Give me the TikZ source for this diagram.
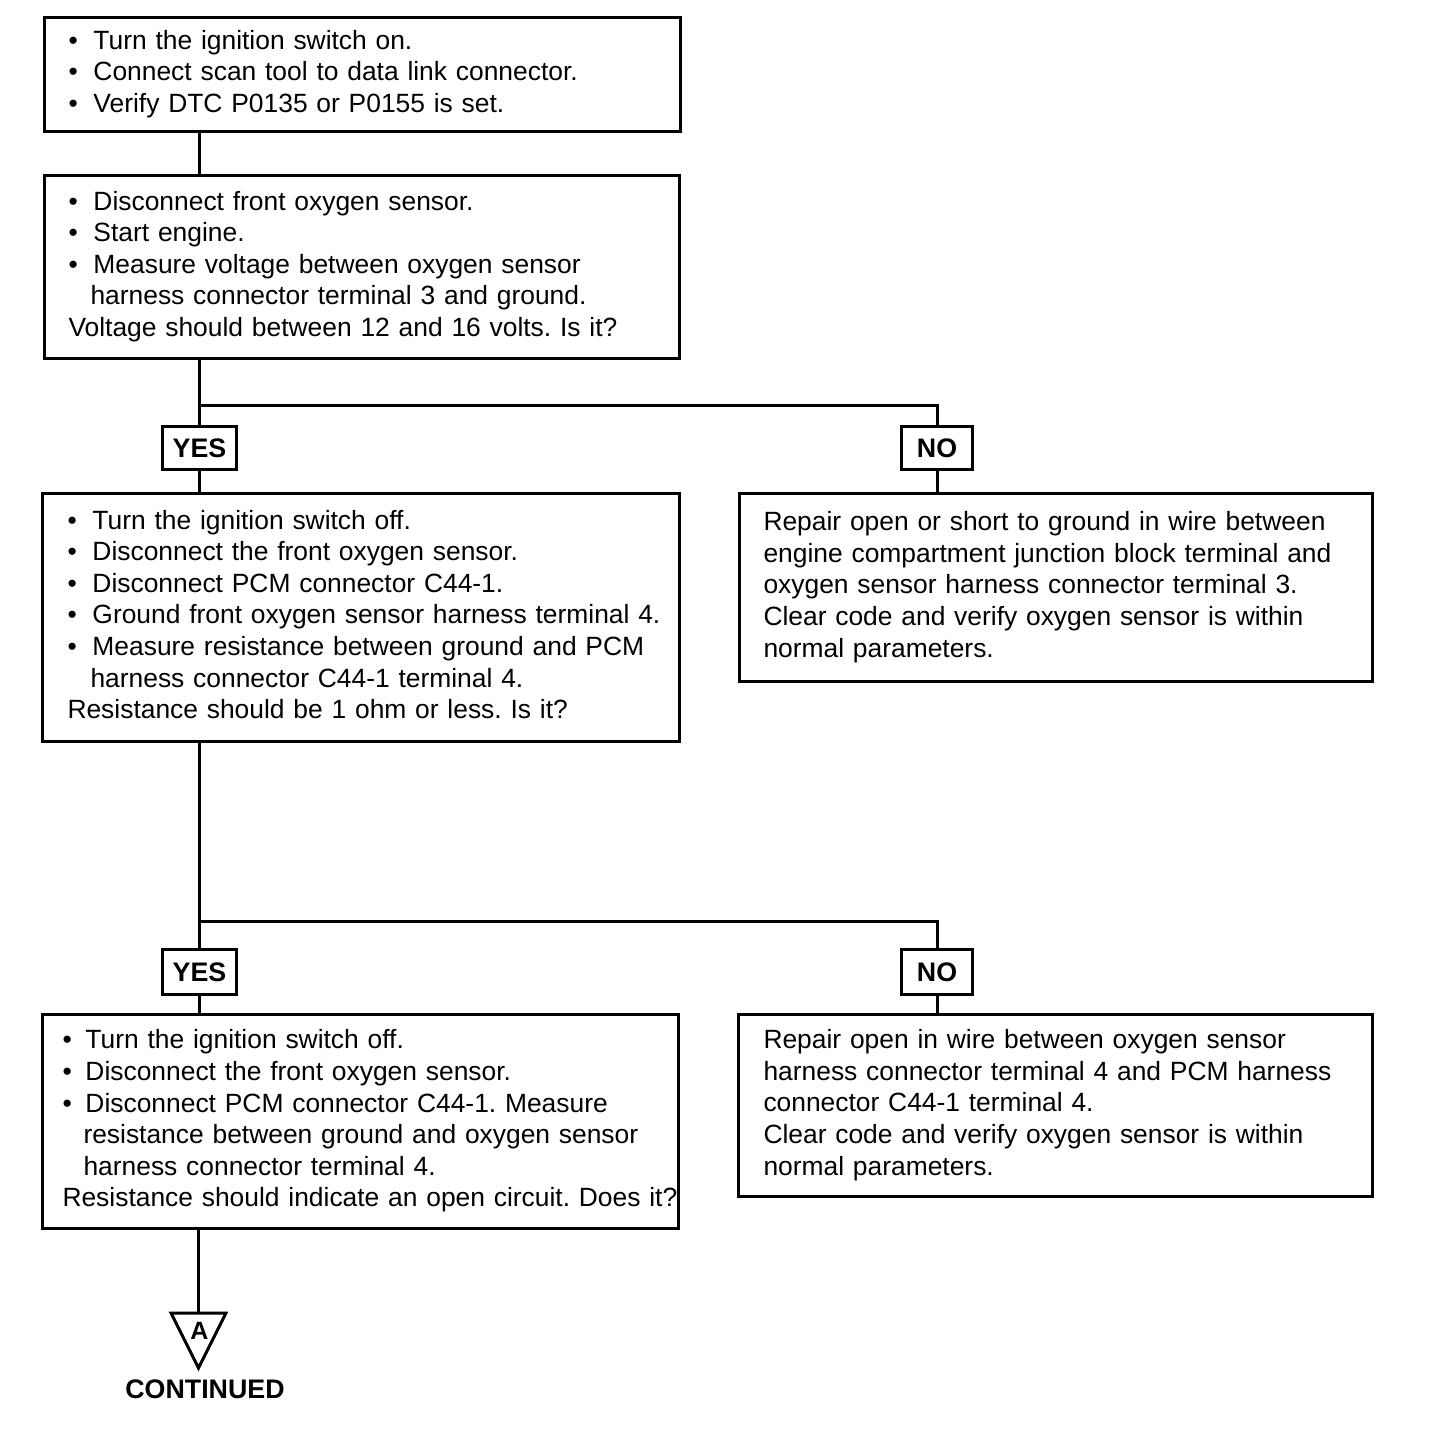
\documentclass[tikz,border=0pt]{standalone}
\usepackage{fontspec}
\setmainfont{Liberation Sans}
\frenchspacing
\newcommand{\bul}[2][25pt]{\makebox[#1][l]{\textbullet}#2}
\newcommand{\cont}[2][22pt]{\hspace*{#1}#2}
\newcommand{\blines}[1]{\noindent\begin{tabular}{@{}l@{}}#1\end{tabular}}
\begin{document}
\begin{tikzpicture}[x=1pt,y=-1pt,
  lw/.style={line width=3pt},
  box/.style={draw, lw, anchor=north west, align=left, inner ysep=0pt,
    font=\fontsize{26.4}{31.6}\selectfont\frenchspacing},
  tag/.style={draw, lw, anchor=north west, inner sep=0pt,
    font=\fontsize{26.8}{31.6}\selectfont\bfseries},
  conn/.style={lw}]
\useasboundingbox (0,0) rectangle (1440,1452);
\fill[white] (0,0) rectangle (1440,1452);

\node[box, inner xsep=24pt, text width=588pt, minimum height=114pt] (b1) at (43,16)
{\blines{\bul{Turn the ignition switch on.}\\
\bul{Connect scan tool to data link connector.}\\
\bul{Verify DTC P0135 or P0155 is set.}}};

\node[box, inner xsep=24pt, text width=587pt, minimum height=183pt] (b2) at (43,174)
{\blines{\bul{Disconnect front oxygen sensor.}\\
\bul{Start engine.}\\
\bul{Measure voltage between oxygen sensor}\\
\cont{harness connector terminal 3 and ground.}\\
Voltage should between 12 and 16 volts. Is it?}};

\node[tag, minimum width=74pt, minimum height=43pt] (y1) at (161,425) {YES};
\node[tag, minimum width=71pt, minimum height=43pt] (n1) at (900,425) {NO};

\node[box, inner xsep=25pt, text width=587pt, minimum height=248pt] (b3) at (41,492)
{\blines{\bul{Turn the ignition switch off.}\\
\bul{Disconnect the front oxygen sensor.}\\
\bul{Disconnect PCM connector C44-1.}\\
\bul{Ground front oxygen sensor harness terminal 4.}\\
\bul{Measure resistance between ground and PCM}\\
\cont[23pt]{harness connector C44-1 terminal 4.}\\
Resistance should be 1 ohm or less. Is it?}};

\node[box, inner xsep=24pt, text width=585pt, minimum height=188pt] (r1) at (738,492)
{\blines{Repair open or short to ground in wire between\\
engine compartment junction block terminal and\\
oxygen sensor harness connector terminal 3.\\
Clear code and verify oxygen sensor is within\\
normal parameters.}};

\node[tag, minimum width=74pt, minimum height=45pt] (y2) at (161,948) {YES};
\node[tag, minimum width=71pt, minimum height=45pt] (n2) at (900,948) {NO};

\node[box, inner xsep=20pt, text width=596pt, minimum height=214pt] (b4) at (41,1013)
{\blines{\bul[23pt]{Turn the ignition switch off.}\\
\bul[23pt]{Disconnect the front oxygen sensor.}\\
\bul[23pt]{Disconnect PCM connector C44-1. Measure}\\
\cont[21pt]{resistance between ground and oxygen sensor}\\
\cont[21pt]{harness connector terminal 4.}\\
Resistance should indicate an open circuit. Does it?}};

\node[box, inner xsep=25pt, text width=584pt, minimum height=182pt] (r2) at (737,1013)
{\blines{Repair open in wire between oxygen sensor\\
harness connector terminal 4 and PCM harness\\
connector C44-1 terminal 4.\\
Clear code and verify oxygen sensor is within\\
normal parameters.}};

% connectors
\coordinate (j1) at (198,405);
\coordinate (j2) at (198,921);
\coordinate (tritop) at (198.5,1313);
\draw[conn] (b1.south -| y1) -- (b2.north -| y1);
\draw[conn] (b2.south -| y1) -- (y1.north);
\draw[conn] (j1) -| (n1.north);
\draw[conn] (y1.south) -- (b3.north -| y1);
\draw[conn] (n1.south) -- (r1.north -| n1);
\draw[conn] (b3.south -| y2) -- (y2.north);
\draw[conn] (j2) -| (n2.north);
\draw[conn] (y2.south) -- (b4.north -| y2);
\draw[conn] (n2.south) -- (r2.north -| n2);
\draw[conn] (b4.south -| tritop) -- (tritop);

% off-page connector
\draw[lw, line join=miter] (171,1313) -- (226,1313) -- (198.5,1368) -- cycle;
\node[font=\fontsize{25}{30}\selectfont\bfseries, inner sep=0pt] (A) at (199.5,1331) {A};
\node[font=\fontsize{26.8}{31.6}\selectfont\bfseries, inner sep=0pt] (cont) at (205,1389) {CONTINUED};
\end{tikzpicture}
\end{document}
